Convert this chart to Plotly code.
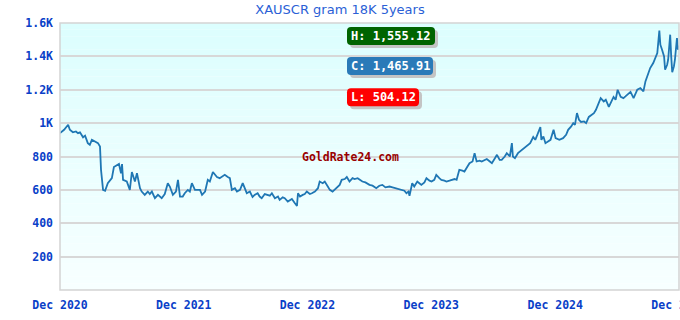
import plotly.graph_objects as go

# ---- data ----
dates = [
    "2020-12-01","2020-12-13","2020-12-25","2020-12-30","2021-01-08","2021-01-17","2021-01-23","2021-01-29",
    "2021-02-07","2021-02-13","2021-02-21","2021-02-27","2021-03-05","2021-03-14","2021-03-23","2021-03-29",
    "2021-04-01","2021-04-07","2021-04-13","2021-04-21","2021-04-27","2021-05-03","2021-05-09","2021-05-18",
    "2021-05-24","2021-05-30","2021-06-02","2021-06-05","2021-06-16","2021-06-25","2021-07-01","2021-07-10",
    "2021-07-16","2021-07-25","2021-07-30","2021-08-08","2021-08-17","2021-08-23","2021-08-29","2021-09-07",
    "2021-09-16","2021-09-27","2021-10-06","2021-10-15","2021-10-21","2021-10-30","2021-11-08","2021-11-14",
    "2021-11-20","2021-11-28","2021-12-04","2021-12-13","2021-12-19","2021-12-25","2022-01-03","2022-01-12",
    "2022-01-18","2022-01-24","2022-02-02","2022-02-10","2022-02-16","2022-02-25","2022-03-03","2022-03-09",
    "2022-03-17","2022-03-23","2022-04-01","2022-04-10","2022-04-16","2022-04-22","2022-05-01","2022-05-07",
    "2022-05-16","2022-05-24","2022-05-30","2022-06-05","2022-06-14","2022-06-22","2022-06-28","2022-07-07",
    "2022-07-13","2022-07-19","2022-07-28","2022-08-03","2022-08-12","2022-08-18","2022-08-27","2022-09-05",
    "2022-09-10","2022-09-19","2022-09-25","2022-10-04","2022-10-10","2022-10-16","2022-10-25","2022-10-31",
    "2022-11-03","2022-11-09","2022-11-17","2022-11-23","2022-11-29","2022-12-08","2022-12-14","2022-12-23",
    "2023-01-01","2023-01-06","2023-01-15","2023-01-21","2023-01-30","2023-02-05","2023-02-13","2023-02-19",
    "2023-02-25","2023-03-06","2023-03-12","2023-03-21","2023-03-27","2023-04-04","2023-04-13","2023-04-19",
    "2023-04-28","2023-05-04","2023-05-12","2023-05-21","2023-06-02","2023-06-11","2023-06-22","2023-07-01",
    "2023-07-10","2023-07-19","2023-07-31","2023-08-09","2023-08-20","2023-08-29","2023-09-04","2023-09-13",
    "2023-09-19","2023-09-25","2023-09-28","2023-10-06","2023-10-12","2023-10-21","2023-10-27","2023-11-02",
    "2023-11-11","2023-11-17","2023-11-26","2023-12-02","2023-12-10","2023-12-16","2023-12-25","2023-12-31",
    "2024-01-09","2024-01-15","2024-01-24","2024-01-30","2024-02-08","2024-02-14","2024-02-22","2024-03-02",
    "2024-03-08","2024-03-17","2024-03-23","2024-04-01","2024-04-07","2024-04-13","2024-04-22","2024-04-28",
    "2024-05-07","2024-05-13","2024-05-22","2024-05-28","2024-06-06","2024-06-12","2024-06-20","2024-06-26",
    "2024-07-05","2024-07-11","2024-07-20","2024-07-26","2024-07-29","2024-08-04","2024-08-13","2024-08-19",
    "2024-08-28","2024-09-03","2024-09-12","2024-09-18","2024-09-27","2024-10-03","2024-10-09","2024-10-18",
    "2024-10-21","2024-10-27","2024-11-02","2024-11-11","2024-11-17","2024-11-26","2024-12-02","2024-12-13",
    "2024-12-24","2025-01-02","2025-01-08","2025-01-17","2025-01-23","2025-01-28","2025-02-03","2025-02-09",
    "2025-02-15","2025-02-24","2025-03-02","2025-03-10","2025-03-16","2025-03-25","2025-03-31","2025-04-06",
    "2025-04-14","2025-04-23","2025-04-29","2025-05-08","2025-05-14","2025-05-22","2025-05-28","2025-06-03",
    "2025-06-12","2025-06-20","2025-06-26","2025-07-02","2025-07-11","2025-07-20","2025-07-26","2025-07-31",
    "2025-08-09","2025-08-18","2025-08-24","2025-08-30","2025-09-07","2025-09-16","2025-09-22","2025-09-28",
    "2025-10-04","2025-10-07","2025-10-12","2025-10-18","2025-10-21","2025-10-27","2025-10-30","2025-11-05",
    "2025-11-08","2025-11-11","2025-11-16","2025-11-19","2025-11-25","2025-11-28","2025-12-01",
]
prices = [
    940, 960, 990, 960, 945, 950, 940, 945,
    915, 925, 880, 870, 900, 890, 880, 860,
    720, 600, 595, 640, 655, 670, 737, 750,
    755, 700, 755, 660, 650, 600, 707, 650,
    700, 610, 590, 570, 590, 575, 590, 550,
    570, 550, 575, 640, 620, 570, 590, 660,
    560, 560, 580, 600, 590, 640, 600, 600,
    600, 570, 590, 660, 650, 707, 690, 677,
    670, 680, 690, 677, 670, 600, 610, 590,
    600, 640, 610, 580, 590, 557, 570, 580,
    560, 550, 575, 570, 565, 580, 550, 560,
    540, 555, 550, 530, 540, 545, 520, 504.12,
    580, 560, 570, 575, 590, 575, 580, 590,
    610, 650, 640, 650, 620, 600, 590, 600,
    610, 630, 660, 665, 677, 650, 670, 665,
    670, 660, 650, 645, 630, 625, 610, 625,
    630, 615, 620, 615, 610, 605, 600, 595,
    580, 590, 565, 640, 620, 650, 640, 630,
    645, 670, 655, 650, 660, 690, 670, 660,
    655, 650, 655, 660, 665, 660, 720, 715,
    710, 740, 760, 770, 820, 770, 775, 770,
    780, 785, 770, 760, 790, 810, 780, 780,
    800, 820, 800, 880, 800, 790, 820, 830,
    850, 860, 870, 880, 917, 900, 930, 977,
    900, 920, 880, 890, 900, 960, 910, 900,
    910, 930, 960, 980, 1000, 990, 1060, 1020,
    1007, 1010, 1000, 1037, 1045, 1060, 1080, 1108,
    1150, 1130, 1140, 1097, 1120, 1157, 1140, 1200,
    1157, 1150, 1160, 1170, 1187, 1150, 1180, 1200,
    1210, 1190, 1250, 1290, 1330, 1360, 1390, 1420,
    1555.12, 1470, 1440, 1400, 1320, 1350, 1380, 1530,
    1400, 1305, 1340, 1380, 1510, 1440, 1465.91,
]

title_text = "XAUSCR gram 18K 5years"
y_tick_vals = [200, 400, 600, 800, 1000, 1200, 1400, 1600]
y_tick_text = ["200", "400", "600", "800", "1K", "1.2K", "1.4K", "1.6K"]
x_tick_vals = ["2020-12-01", "2021-12-01", "2022-12-01", "2023-12-01", "2024-12-01", "2025-12-01"]
x_tick_text = ["Dec 2020", "Dec 2021", "Dec 2022", "Dec 2023", "Dec 2024", "Dec 2025"]
badge_texts = ["H: 1,555.12", "C: 1,465.91", "L: 504.12"]
badge_colors = ["#006400", "#2a7ab8", "#ff0000"]
watermark = "GoldRate24.com"

MONO = "DejaVu Sans Mono"
TICK_BLUE = "#0a40c8"
PLOT_W = 619.0
PLOT_H = 267.0

fig = go.Figure()
fig.add_trace(go.Scatter(
    x=dates, y=prices, mode="lines",
    line=dict(color="#1f77b4", width=1.8),
    hoverinfo="skip", showlegend=False,
))

# gradient background of the plot area (horizontal bands)
shapes = []
n = 40
top = (220, 254, 254)
bot = (247, 255, 255)
for i in range(n):
    t = i / (n - 1)
    c = tuple(round(top[k] + (bot[k] - top[k]) * t) for k in range(3))
    shapes.append(dict(
        type="rect", xref="paper", yref="paper",
        x0=0, x1=1, y1=1 - i / n, y0=1 - (i + 1) / n,
        fillcolor="rgb(%d,%d,%d)" % c, line=dict(width=0), layer="below",
    ))
# plot border
shapes.append(dict(type="rect", xref="paper", yref="paper", x0=0, x1=1, y0=0, y1=1,
                   line=dict(color="#d4d4d4", width=1.5), layer="above"))


def rounded_path(w, h, r):
    x0, x1, y0, y1 = 0, w, -h / 2, h / 2
    return (f"M {x0 + r},{y0} L {x1 - r},{y0} Q {x1},{y0} {x1},{y0 + r} "
            f"L {x1},{y1 - r} Q {x1},{y1} {x1 - r},{y1} L {x0 + r},{y1} "
            f"Q {x0},{y1} {x0},{y1 - r} L {x0},{y0 + r} Q {x0},{y0} {x0 + r},{y0} Z")


annotations = []
badge_y = [0.951, 0.839, 0.722]
badge_w = [88, 86, 72]
bx = (347 - 60) / PLOT_W
for txt, col, yy, w in zip(badge_texts, badge_colors, badge_y, badge_w):
    p = rounded_path(w, 18, 4)
    # shadow
    shapes.append(dict(type="path", xref="paper", yref="paper", xsizemode="pixel", ysizemode="pixel",
                       xanchor=bx + 3 / PLOT_W, yanchor=yy - 3 / PLOT_H, path=p,
                       fillcolor="#c4c4c4", line=dict(width=0), layer="above"))
    shapes.append(dict(type="path", xref="paper", yref="paper", xsizemode="pixel", ysizemode="pixel",
                       xanchor=bx, yanchor=yy, path=p,
                       fillcolor=col, line=dict(width=0), layer="above"))
    annotations.append(dict(xref="paper", yref="paper", x=(349 - 60) / PLOT_W, y=yy,
                            xanchor="left", yanchor="middle", showarrow=False, text=txt,
                            font=dict(family=MONO, size=12, color="white", weight="bold")))

annotations.append(dict(xref="paper", yref="paper", x=(300 - 60) / PLOT_W, y=0.497,
                        xanchor="left", yanchor="middle", showarrow=False, text=watermark,
                        font=dict(family=MONO, size=11.5, color="#990000", weight="bold")))

fig.update_layout(
    width=680, height=320,
    margin=dict(l=60, r=1, t=23, b=30, autoexpand=False),
    paper_bgcolor="white", plot_bgcolor="rgba(0,0,0,0)",
    title=dict(text=title_text, x=0.5, xanchor="center", y=0.985, yanchor="top",
               font=dict(family="DejaVu Sans", size=13, color="#2b5fd6")),
    shapes=shapes, annotations=annotations,
    xaxis=dict(type="date", range=["2020-12-01", "2025-12-01"],
               tickvals=x_tick_vals, ticktext=x_tick_text,
               showgrid=False, zeroline=False, showline=False, ticks="",
               ticklabeloverflow="allow", automargin=False,
               tickfont=dict(family=MONO, size=11.5, color=TICK_BLUE, weight="bold"),
               ticklabelstandoff=6),
    yaxis=dict(range=[0, 1600], tickvals=y_tick_vals, ticktext=y_tick_text,
               showgrid=True, gridcolor="#d8d8d8", gridwidth=1.5, zeroline=False,
               showline=False, ticks="", automargin=False,
               tickfont=dict(family=MONO, size=11.5, color=TICK_BLUE, weight="bold"),
               ticklabelstandoff=6),
)

fig.write_html("out.html")
